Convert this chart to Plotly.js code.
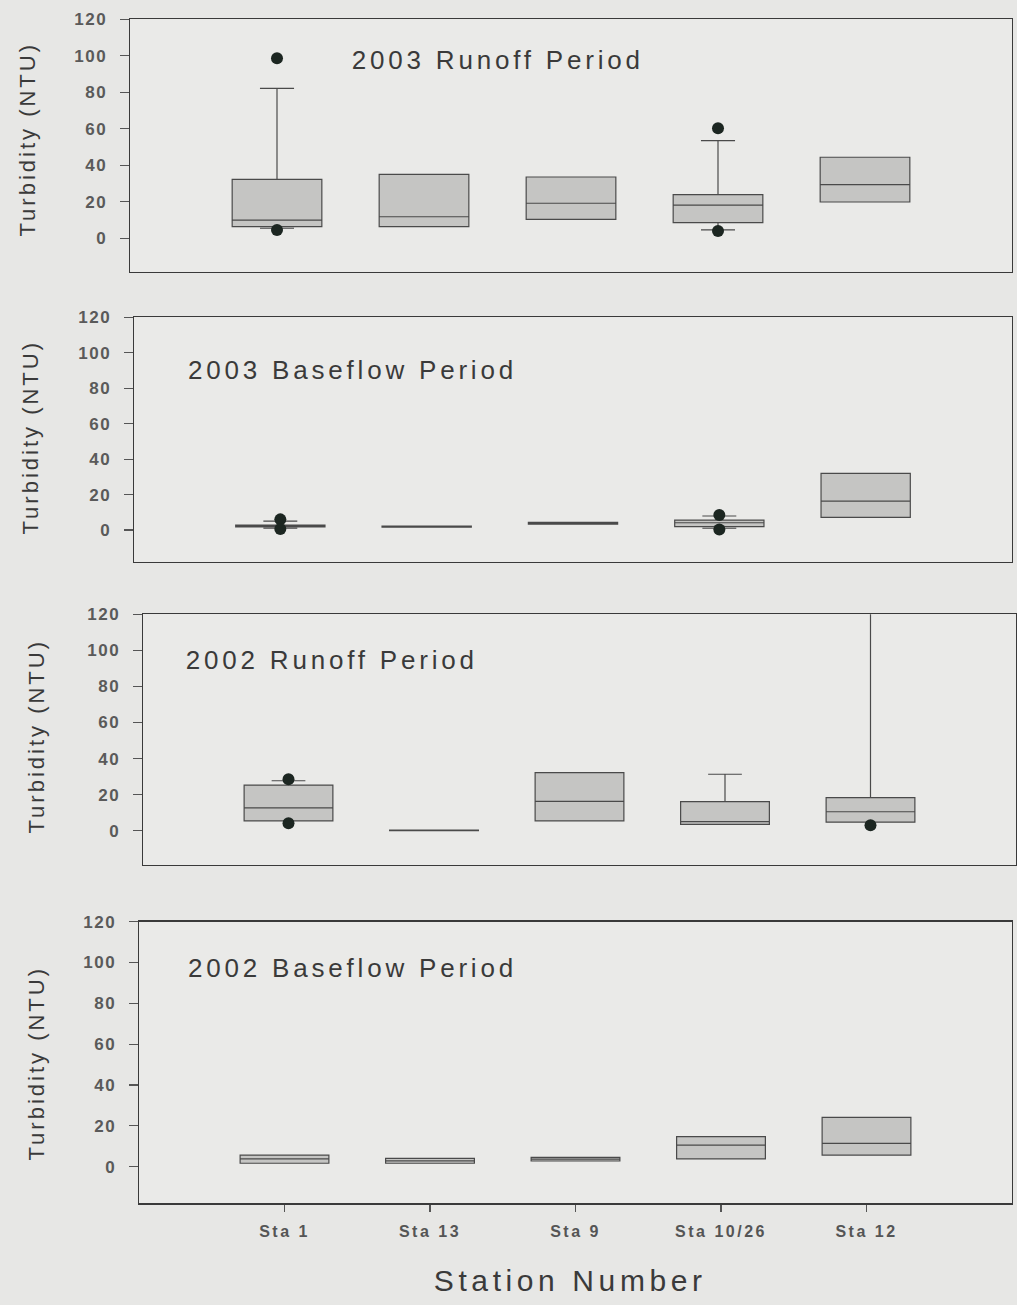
<!DOCTYPE html>
<html>
<head>
<meta charset="utf-8">
<script src="https://cdn.plot.ly/plotly-3.0.1.min.js"></script>
<style>
  html, body { margin: 0; padding: 0; background: #e7e7e5; }
  #chart { width: 1017px; height: 1305px; }
  g.annotation[data-index="0"] text, g.annotation[data-index="1"] text,
  g.annotation[data-index="2"] text, g.annotation[data-index="3"] text { letter-spacing: 3.8px; }
  g.annotation[data-index="4"] text, g.annotation[data-index="5"] text,
  g.annotation[data-index="6"] text, g.annotation[data-index="7"] text { letter-spacing: 3px; }
  g.annotation[data-index="8"] text { letter-spacing: 4.6px; }
  g[class^="x"][class$="tick"] text { letter-spacing: 2.5px; }
  g[class^="y"][class$="tick"] text { letter-spacing: 1.5px; }
</style>
</head>
<body>
<div id="chart"></div>
<script>
// ---------------- data ----------------
const stations = ['Sta 1', 'Sta 13', 'Sta 9', 'Sta 10/26', 'Sta 12'];
const yTicks = [0, 20, 40, 60, 80, 100, 120];
const panelTitles = ['2003 Runoff Period', '2003 Baseflow Period', '2002 Runoff Period', '2002 Baseflow Period'];
const yTitle = 'Turbidity (NTU)';
const xTitle = 'Station Number';

// 2003 Runoff Period
const r03_q1  = [6.4, 6.4, 10.4, 8.6, 19.9];
const r03_med = [10.0, 11.8, 19.2, 18.2, 29.4];
const r03_q3  = [32.3, 35.0, 33.6, 23.9, 44.4];
const r03_lo  = [5.5, 6.4, 10.4, 4.6, 19.9];
const r03_hi  = [82.2, 35.0, 33.6, 53.5, 44.4];
const r03_outX = ['Sta 1', 'Sta 1', 'Sta 10/26', 'Sta 10/26'];
const r03_outY = [98.6, 4.5, 60.3, 4.0];

// 2003 Baseflow Period
const b03_q1  = [1.8, 1.6, 3.3, 1.9, 7.1];
const b03_med = [2.3, 1.9, 3.8, 4.1, 16.3];
const b03_q3  = [2.8, 2.2, 4.3, 5.6, 32.0];
const b03_lo  = [1.0, 1.6, 3.3, 1.0, 7.1];
const b03_hi  = [5.0, 2.2, 4.3, 7.9, 32.0];
const b03_outX = ['Sta 1', 'Sta 1', 'Sta 10/26', 'Sta 10/26'];
const b03_outY = [6.0, 0.5, 8.5, 0.3];

// 2002 Runoff Period
const r02_q1  = [5.4, 0.0, 5.4, 3.5, 4.7];
const r02_med = [12.7, 0.2, 16.3, 5.0, 10.5];
const r02_q3  = [25.3, 0.4, 32.2, 16.1, 18.3];
const r02_lo  = [5.4, 0.0, 5.4, 3.5, 4.7];
const r02_hi  = [27.7, 0.4, 32.2, 31.3, 140.0];
const r02_outX = ['Sta 1', 'Sta 1', 'Sta 12'];
const r02_outY = [28.5, 4.1, 3.0];

// 2002 Baseflow Period
const b02_q1  = [1.7, 1.7, 2.8, 3.8, 5.7];
const b02_med = [3.8, 2.9, 3.7, 10.6, 11.4];
const b02_q3  = [5.7, 4.1, 4.6, 14.7, 24.2];
const b02_lo  = [1.7, 1.7, 2.8, 3.8, 5.7];
const b02_hi  = [5.7, 4.1, 4.6, 14.7, 24.2];
const b02_outX = [];
const b02_outY = [];

// ---------------- layout geometry (pixels of the 1017x1305 page) ----------------
const W = 1017, H = 1305;
const panels = [
  {left: 130, right: 1012, top: 19.3,  bottom: 271.7, zero: 238.3, titleX: 498, titleY: 60,  yTitleX: 28, yTitleY: 139},
  {left: 134, right: 1012, top: 317.3, bottom: 561.7, zero: 530.0, titleX: 352, titleY: 370, yTitleX: 30, yTitleY: 437},
  {left: 143, right: 1016, top: 614.3, bottom: 865.0, zero: 830.7, titleX: 332, titleY: 660, yTitleX: 36, yTitleY: 736},
  {left: 139, right: 1012, top: 921.7, bottom: 1203.3, zero: 1166.7, titleX: 352, titleY: 968, yTitleX: 36, yTitleY: 1063}
];

const series = [
  {q1: r03_q1, med: r03_med, q3: r03_q3, lo: r03_lo, hi: r03_hi, ox: r03_outX, oy: r03_outY},
  {q1: b03_q1, med: b03_med, q3: b03_q3, lo: b03_lo, hi: b03_hi, ox: b03_outX, oy: b03_outY},
  {q1: r02_q1, med: r02_med, q3: r02_q3, lo: r02_lo, hi: r02_hi, ox: r02_outX, oy: r02_outY},
  {q1: b02_q1, med: b02_med, q3: b02_q3, lo: b02_lo, hi: b02_hi, ox: b02_outX, oy: b02_outY}
];

const FONT = 'Liberation Sans, Arial, sans-serif';
const traces = [];
const layout = {
  width: W, height: H,
  margin: {l: 0, r: 0, t: 0, b: 0},
  paper_bgcolor: '#e7e7e5',
  plot_bgcolor: '#eaeae8',
  showlegend: false,
  font: {family: FONT, color: '#3c3c3c'},
  annotations: []
};

panels.forEach((p, i) => {
  const n = i === 0 ? '' : String(i + 1);
  const xa = 'x' + n, ya = 'y' + n;
  const s = series[i];
  traces.push({
    type: 'box', xaxis: xa, yaxis: ya,
    x: stations, q1: s.q1, median: s.med, q3: s.q3,
    lowerfence: s.lo, upperfence: s.hi,
    boxpoints: false, width: 0.61, whiskerwidth: 0.38,
    fillcolor: '#c5c5c3',
    line: {color: '#4a4a4a', width: 1.2},
    hoverinfo: 'skip'
  });
  if (s.ox.length) {
    traces.push({
      type: 'scatter', mode: 'markers', xaxis: xa, yaxis: ya,
      x: s.ox, y: s.oy,
      marker: {color: '#1c2621', size: 12, line: {width: 0}},
      hoverinfo: 'skip', cliponaxis: true
    });
  }
  const ppu = (p.zero - p.top) / 120;
  const yMin = -(p.bottom - p.zero) / ppu;
  const isLast = i === panels.length - 1;
  layout['xaxis' + n] = {
    domain: [p.left / W, p.right / W],
    anchor: ya,
    type: 'category',
    categoryorder: 'array', categoryarray: stations,
    range: [-1, 5],
    showgrid: false, zeroline: false,
    showline: true, mirror: true, linecolor: '#3a3a3a', linewidth: 1.4,
    ticks: isLast ? 'outside' : '', ticklen: 7, tickwidth: 1.2, tickcolor: '#555',
    showticklabels: isLast,
    ticklabelstandoff: 6,
    tickfont: {family: FONT, size: 16, color: '#555', weight: 'bold'}
  };
  layout['yaxis' + n] = {
    domain: [1 - p.bottom / H, 1 - p.top / H],
    anchor: xa,
    range: [yMin, 120],
    tickvals: yTicks,
    ticktext: yTicks.map(String),
    showgrid: false, zeroline: false,
    showline: true, mirror: true, linecolor: '#3a3a3a', linewidth: 1.4,
    ticks: 'outside', ticklen: 9, tickwidth: 1.2, tickcolor: '#555',
    ticklabelstandoff: 9,
    tickfont: {family: FONT, size: 17, color: '#5a5a5a', weight: 'bold'}
  };
});

// panel titles (0-3)
panels.forEach((p, i) => {
  layout.annotations.push({
    xref: 'paper', yref: 'paper',
    x: p.titleX / W, y: 1 - p.titleY / H,
    xanchor: 'center', yanchor: 'middle',
    text: panelTitles[i], showarrow: false,
    font: {family: FONT, size: 26, color: '#3a3a3a'}
  });
});
// y titles (4-7)
panels.forEach((p, i) => {
  layout.annotations.push({
    xref: 'paper', yref: 'paper',
    x: p.yTitleX / W, y: 1 - p.yTitleY / H,
    xanchor: 'center', yanchor: 'middle',
    text: yTitle, textangle: -90, showarrow: false,
    font: {family: FONT, size: 22, color: '#3a3a3a'}
  });
});
// x title (8)
layout.annotations.push({
  xref: 'paper', yref: 'paper',
  x: 570 / W, y: 1 - 1280 / H,
  xanchor: 'center', yanchor: 'middle',
  text: xTitle, showarrow: false,
  font: {family: FONT, size: 30, color: '#3a3a3a'}
});

Plotly.newPlot('chart', traces, layout, {staticPlot: true, displayModeBar: false});
</script>
</body>
</html>
